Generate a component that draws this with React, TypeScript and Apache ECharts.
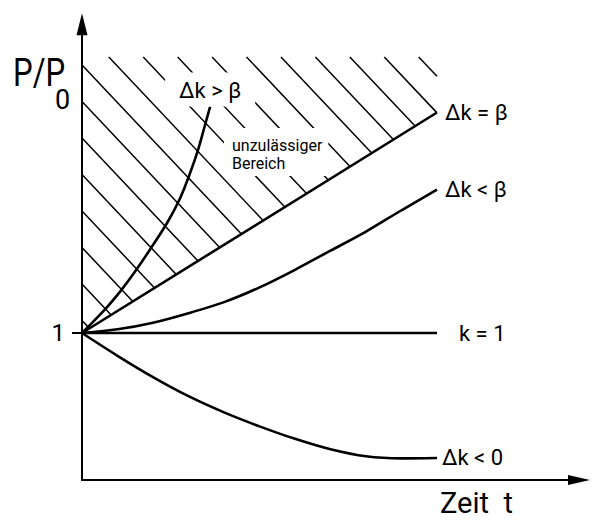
import { useEffect, useRef } from "react";
import * as echarts from "echarts";

const FONT = "Roboto, 'DejaVu Sans', sans-serif";

// Relative power P/P0 against time t (t = 1 at the right end of the curves)
const superPrompt: number[][] = [
  [0, 1], [0.07, 1.175], [0.11, 1.29], [0.15, 1.42], [0.195, 1.58], [0.24, 1.75],
  [0.276, 1.915], [0.304, 2.085], [0.328, 2.255], [0.346, 2.41], [0.361, 2.54],
];
const promptLimit: number[][] = [[0, 1], [1, 2.5]];
const delayed: number[][] = [
  [0, 1], [0.1, 1.025], [0.2, 1.07], [0.3, 1.135], [0.4, 1.21], [0.5, 1.31],
  [0.6, 1.43], [0.7, 1.56], [0.8, 1.69], [0.9, 1.835], [1, 1.975],
];
const critical: number[][] = [[0, 1], [1, 1]];
const subcritical: number[][] = [
  [0, 1], [0.1, 0.845], [0.2, 0.7], [0.3, 0.57], [0.4, 0.46], [0.5, 0.365],
  [0.6, 0.28], [0.7, 0.209], [0.8, 0.161], [0.9, 0.147], [1, 0.15],
];

const curveLabels = ["Δk > β", "Δk = β", "Δk < β", "k = 1", "Δk < 0"];
const yTickValues = [1];

const T_MAX = 1.4;
const Y_MAX = 3.1;

// Hatched "forbidden" area above the Δk = β line
const HATCH_TOP = 2.878;
const HATCH_RIGHT = 1;
const HATCH_SLOPE = 2.56;
const HATCH_START = 2.823;
const HATCH_STEP = 0.2483;

function hatchSegments(): number[][] {
  const [p0, p1] = promptLimit;
  const limitSlope = (p1[1] - p0[1]) / (p1[0] - p0[0]);
  const segs: number[][] = [];
  for (let k = -14; k <= 12; k++) {
    const b = HATCH_START - k * HATCH_STEP;
    const x1 = Math.max(0, (b - HATCH_TOP) / HATCH_SLOPE);
    const x2 = Math.min(HATCH_RIGHT, (b - p0[1]) / (HATCH_SLOPE + limitSlope));
    if (x2 > x1) segs.push([x1, b - HATCH_SLOPE * x1, x2, b - HATCH_SLOPE * x2]);
  }
  return segs;
}

function curve(data: number[][], label: string, smooth: number | boolean, endLabel: any) {
  return {
    type: "line",
    data,
    z: 3,
    silent: true,
    symbol: "none",
    smooth,
    lineStyle: { color: "#000", width: 2.6 },
    emphasis: { disabled: true },
    endLabel: {
      show: true,
      formatter: label,
      color: "#000",
      fontFamily: FONT,
      fontSize: 22,
      ...endLabel,
    },
  };
}

export default function App() {
  const ref = useRef<HTMLDivElement>(null);

  useEffect(() => {
    if (!ref.current) return;
    const chart = echarts.init(ref.current, undefined, { renderer: "svg" });
    chart.setOption({
      animation: false,
      backgroundColor: "#fff",
      grid: { left: 82, right: 13, top: 24.3, bottom: 41, outerBoundsMode: "none" },
      xAxis: {
        type: "value",
        min: 0,
        max: T_MAX,
        axisLine: {
          show: true,
          onZero: false,
          symbol: ["none", "triangle"],
          symbolSize: [10, 22],
          lineStyle: { color: "#000", width: 2 },
        },
        axisTick: { show: false },
        axisLabel: { show: false },
        splitLine: { show: false },
      },
      yAxis: {
        type: "value",
        min: 0,
        max: Y_MAX,
        axisLine: {
          show: true,
          onZero: false,
          symbol: ["none", "triangle"],
          symbolSize: [11, 22],
          lineStyle: { color: "#000", width: 2 },
        },
        axisTick: {
          show: true,
          customValues: yTickValues,
          length: 10,
          lineStyle: { color: "#000", width: 2 },
        },
        axisLabel: {
          show: true,
          customValues: yTickValues,
          margin: 17,
          fontSize: 24,
          color: "#000",
          fontFamily: FONT,
        },
        splitLine: { show: false },
      },
      series: [
        {
          type: "custom",
          z: 1,
          silent: true,
          data: hatchSegments(),
          encode: { x: [0, 2], y: [1, 3] },
          renderItem: (_params: any, api: any) => {
            const a = api.coord([api.value(0), api.value(1)]);
            const b = api.coord([api.value(2), api.value(3)]);
            return {
              type: "line",
              shape: { x1: a[0], y1: a[1], x2: b[0], y2: b[1] },
              style: { stroke: "#000", lineWidth: 1.5 },
            };
          },
        },
        curve(superPrompt, curveLabels[0], 0.3, {
          distance: 0,
          align: "center",
          verticalAlign: "bottom",
          lineHeight: 24,
          backgroundColor: "#fff",
          padding: [6, 14, 4, 14],
        }),
        curve(promptLimit, curveLabels[1], false, { distance: 8 }),
        curve(delayed, curveLabels[2], 0.3, { distance: 8 }),
        curve(critical, curveLabels[3], false, { distance: 22 }),
        curve(subcritical, curveLabels[4], 0.3, { distance: 5 }),
      ],
      graphic: [
        {
          type: "text",
          z: 10,
          x: 13,
          y: 72.5,
          scaleX: 0.82,
          style: { text: "P/P", fontSize: 38, fontFamily: FONT, fill: "#000", verticalAlign: "middle" },
        },
        {
          type: "text",
          z: 10,
          x: 55,
          y: 100,
          style: { text: "0", fontSize: 27, fontFamily: FONT, fill: "#000", verticalAlign: "middle" },
        },
        {
          type: "text",
          z: 10,
          x: 440,
          y: 503,
          style: {
            text: "Zeit  t",
            fontSize: 29,
            lineHeight: 30,
            fontFamily: FONT,
            fill: "#000",
            verticalAlign: "middle",
          },
        },
        {
          type: "text",
          z: 10,
          x: 224,
          y: 128,
          style: {
            text: "unzulässiger\nBereich",
            fontSize: 16,
            lineHeight: 18,
            fontFamily: FONT,
            fill: "#000",
            backgroundColor: "#fff",
            padding: [8, 6, 4, 8],
            verticalAlign: "top",
          },
        },
      ],
    });
    return () => chart.dispose();
  }, []);

  return (
    <div
      ref={ref}
      style={{ position: "fixed", left: 0, top: 0, width: 592, height: 521, background: "#fff" }}
    />
  );
}
